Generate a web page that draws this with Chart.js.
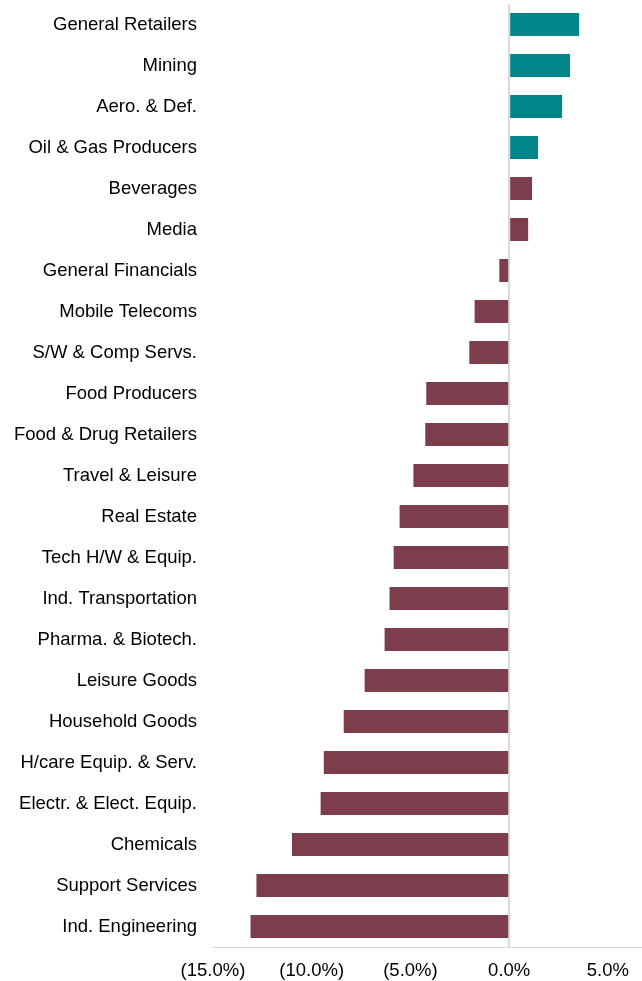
<!DOCTYPE html>
<html>
<head>
<meta charset="utf-8">
<script src="https://cdn.jsdelivr.net/npm/chart.js@4"></script>
<style>
  html, body { margin: 0; padding: 0; background: #fff; }
  #wrap { width: 642px; height: 981px; }
</style>
</head>
<body>
<div id="wrap"><canvas id="chart"></canvas></div>
<script>
const sectors = [
  "General Retailers", "Mining", "Aero. & Def.", "Oil & Gas Producers",
  "Beverages", "Media", "General Financials", "Mobile Telecoms",
  "S/W & Comp Servs.", "Food Producers", "Food & Drug Retailers",
  "Travel & Leisure", "Real Estate", "Tech H/W & Equip.",
  "Ind. Transportation", "Pharma. & Biotech.", "Leisure Goods",
  "Household Goods", "H/care Equip. & Serv.", "Electr. & Elect. Equip.",
  "Chemicals", "Support Services", "Ind. Engineering"
];
const returns = [
  3.54, 3.08, 2.68, 1.46, 1.16, 0.96, -0.5, -1.75, -2.02, -4.2, -4.25,
  -4.85, -5.55, -5.85, -6.06, -6.31, -7.32, -8.38, -9.39, -9.55,
  -11.0, -12.8, -13.1
];
const xTicks = [-15, -10, -5, 0, 5];
const highlighted = 4; // first four sectors drawn in teal

const font = { family: "'Liberation Sans', Arial, sans-serif", size: 18.5 };

new Chart(document.getElementById("chart"), {
  type: "bar",
  data: {
    labels: sectors,
    datasets: [{
      data: returns,
      backgroundColor: ctx => ctx.dataIndex < highlighted ? "#008688" : "#7e3d4d",
      borderWidth: 0,
      barPercentage: 0.56,
      categoryPercentage: 1.0
    }]
  },
  options: {
    indexAxis: "y",
    responsive: true,
    maintainAspectRatio: false,
    animation: false,
    layout: { padding: { top: 4, left: 0, right: 0, bottom: 0 } },
    plugins: { legend: { display: false }, tooltip: { enabled: false } },
    scales: {
      x: {
        min: -15,
        max: 6.7,
        afterBuildTicks: scale => {
          scale.ticks = xTicks.map(v => ({ value: v }));
        },
        afterFit: scale => {
          scale.height = 34;
          scale.paddingTop = 0;
          scale.paddingBottom = 0;
        },
        ticks: {
          font: font,
          color: "#000",
          padding: 13,
          maxRotation: 0,
          callback: v => v < 0 ? "(" + Math.abs(v).toFixed(1) + "%)" : v.toFixed(1) + "%"
        },
        grid: {
          drawTicks: false,
          color: ctx => ctx.tick && ctx.tick.value === 0 ? "#d9d9d9" : "rgba(0,0,0,0)",
          lineWidth: 2
        },
        border: { display: true, color: "#d9d9d9", width: 1 }
      },
      y: {
        afterFit: scale => {
          scale.width = 213;
          scale.paddingTop = 0;
          scale.paddingBottom = 0;
        },
        ticks: { font: font, color: "#000", padding: 16, autoSkip: false },
        grid: { display: false, drawTicks: false },
        border: { display: false }
      }
    }
  }
});
</script>
</body>
</html>
